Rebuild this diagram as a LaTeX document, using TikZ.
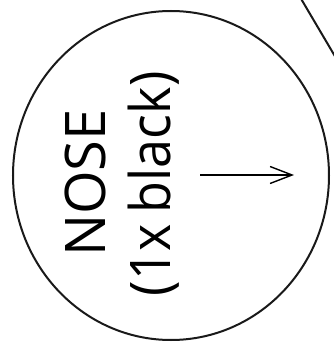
\documentclass[tikz,border=0pt]{standalone}
\usepackage{fontspec}
\setmainfont{Open Sans}
\usetikzlibrary{arrows.meta}
\begin{document}
\begin{tikzpicture}[x=1pt,y=1pt,
  outline/.style={draw=black!90,line width=2pt},
  lbl/.style={rotate=90,anchor=base,inner sep=0pt,font=\fontsize{56}{65}\selectfont},
  pointer/.style={draw=black,line width=1.4pt,-{Straight Barb[length=22pt,width=17pt,line width=1.4pt]}}]
\useasboundingbox (0,0) rectangle (334,349);
\draw[outline] (171,173.5) ellipse [x radius=158, y radius=164.5];
\draw[outline] (300,352) -- (336,291);
\node[lbl] (nose) at (105,166) {NOSE};
\node[lbl] (count) at (170,165) {\scalebox{0.93}[1]{(1x\hspace{-3pt} black)}};
\coordinate (as) at (200,174);
\coordinate (ae) at (294,174);
\draw[pointer] (as) -- (ae);
\end{tikzpicture}
\end{document}
